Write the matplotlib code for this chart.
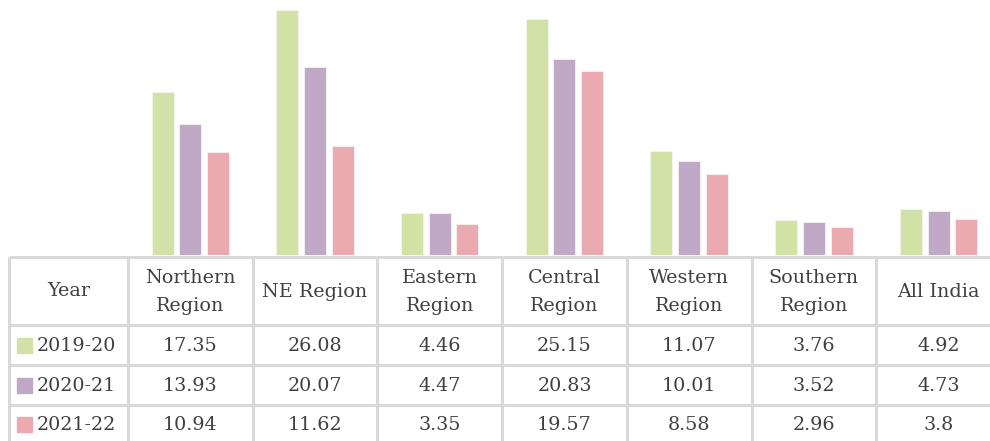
import matplotlib
matplotlib.use("Agg")
import matplotlib.pyplot as plt
import numpy as np

regions = ["Northern\nRegion", "NE Region", "Eastern\nRegion", "Central\nRegion",
           "Western\nRegion", "Southern\nRegion", "All India"]
years = ["2019-20", "2020-21", "2021-22"]
v_2019_20 = [17.35, 26.08, 4.46, 25.15, 11.07, 3.76, 4.92]
v_2020_21 = [13.93, 20.07, 4.47, 20.83, 10.01, 3.52, 4.73]
v_2021_22 = [10.94, 11.62, 3.35, 19.57, 8.58, 2.96, 3.8]
labels_2019_20 = ["17.35", "26.08", "4.46", "25.15", "11.07", "3.76", "4.92"]
labels_2020_21 = ["13.93", "20.07", "4.47", "20.83", "10.01", "3.52", "4.73"]
labels_2021_22 = ["10.94", "11.62", "3.35", "19.57", "8.58", "2.96", "3.8"]

series = [v_2019_20, v_2020_21, v_2021_22]
labels = [labels_2019_20, labels_2020_21, labels_2021_22]
colors = ["#d2e2a6", "#bfa9c7", "#eba9b0"]
text_color = "#404040"
grid_color = "#d9d9d9"
font = ["DejaVu Serif"]

W, H = 990, 441
fig = plt.figure(figsize=(W / 100, H / 100), dpi=100)

# column geometry (pixels)
x0_table = 8.5
x0_cols = 128.0
col_w = 124.7
base_y = 255.0

# bar axes
ax = fig.add_axes([x0_cols / W, (H - base_y) / H, (W - x0_cols) / W, base_y / H])
n = len(regions)
x = np.arange(n)
bw = 0.176
step = 0.222
for i, (vals, c) in enumerate(zip(series, colors)):
    ax.bar(x + (i - 1) * step, vals, width=bw, color=c, edgecolor="#f4f4ee", linewidth=0.6)
ax.set_xlim(-0.5, -0.5 + (W - x0_cols) / col_w)
ax.set_ylim(0, base_y / 9.39)
ax.axis("off")

# table axes in pixel coordinates
tax = fig.add_axes([0, 0, 1, 1])
tax.set_xlim(0, W)
tax.set_ylim(H, 0)
tax.axis("off")

row_lines = [256.5, 325, 365, 405]
col_lines = [x0_table, x0_cols] + [x0_cols + col_w * (k + 1) for k in range(n)]
for y in row_lines:
    tax.plot([x0_table, W], [y, y], color=grid_color, lw=2.2, solid_capstyle="butt")
for xv in col_lines:
    if xv <= W:
        tax.plot([xv, xv], [row_lines[0], H], color=grid_color, lw=2.2, solid_capstyle="butt")

fs = 13.8
# header
tax.text((x0_table + x0_cols) / 2, 291, "Year", ha="center", va="center",
         fontsize=fs, color=text_color, family=font)
for k, r in enumerate(regions):
    cx = x0_cols + col_w * (k + 0.5)
    tax.text(cx, 292, r, ha="center", va="center", fontsize=fs, color=text_color,
             family=font, linespacing=1.75)

row_centers = [346, 386, 425]
for j, (yr, lab, c) in enumerate(zip(years, labels, colors)):
    yc = row_centers[j]
    tax.add_patch(plt.Rectangle((17, yc - 8), 14.5, 14.5, color=c))
    tax.text(37, yc, yr, ha="left", va="center", fontsize=fs, color=text_color, family=font)
    for k, s in enumerate(lab):
        cx = x0_cols + col_w * (k + 0.5)
        tax.text(cx, yc, s, ha="center", va="center", fontsize=fs, color=text_color, family=font)

fig.savefig("out.png", dpi=100, facecolor="white")
